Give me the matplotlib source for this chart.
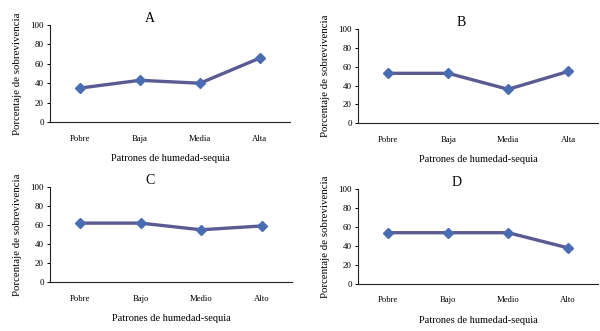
import matplotlib
matplotlib.use("Agg")
import matplotlib.pyplot as plt

cats_a = ["Pobre", "Baja", "Media", "Alta"]
cats_c = ["Pobre", "Bajo", "Medio", "Alto"]
vals_a = [35, 43, 40, 66]
vals_b = [53, 53, 36, 55]
vals_c = [62, 62, 55, 59]
vals_d = [54, 54, 54, 38]
yticks = [0, 20, 40, 60, 80, 100]

plt.rcParams['font.family'] = ['Liberation Serif', 'DejaVu Serif']

fig = plt.figure(figsize=(6.0, 3.31), dpi=100)

panels = [
    ("A", cats_a, vals_a, [0.0833, 0.6314, 0.40, 0.293], 0.417),
    ("B", cats_a, vals_b, [0.597, 0.628, 0.400, 0.284], 0.43),
    ("C", cats_c, vals_c, [0.0833, 0.148, 0.403, 0.287], 0.415),
    ("D", cats_c, vals_d, [0.597, 0.142, 0.400, 0.287], 0.41),
]

for title, cats, vals, rect, tx in panels:
    ax = fig.add_axes(rect)
    x = range(len(cats))
    ax.plot(x, vals, color="#5b5b94", lw=2.4, marker="D", markersize=5.5,
            markerfacecolor="#4a6cb3", markeredgecolor="#4a6cb3", zorder=3)
    ax.set_xlim(-0.5, len(cats) - 0.5)
    ax.set_ylim(0, 100)
    ax.set_yticks(yticks)
    ax.set_xticks(list(x))
    ax.set_xticklabels(cats)
    ax.tick_params(axis="y", labelsize=6.5, length=2.5, width=0.7, pad=2)
    ax.tick_params(axis="x", labelsize=6.2, length=0, pad=9)
    for s in ("top", "right"):
        ax.spines[s].set_visible(False)
    for s in ("left", "bottom"):
        ax.spines[s].set_linewidth(0.8)
        ax.spines[s].set_color("#222222")
    ax.set_title(title, fontsize=10, pad=2, x=tx)
    ax.set_xlabel("Patrones de humedad-sequia", fontsize=7.5, labelpad=8)
    ax.set_ylabel("Porcentaje de sobrevivencia", fontsize=7.8, labelpad=6)

fig.savefig("out.png", dpi=100)
